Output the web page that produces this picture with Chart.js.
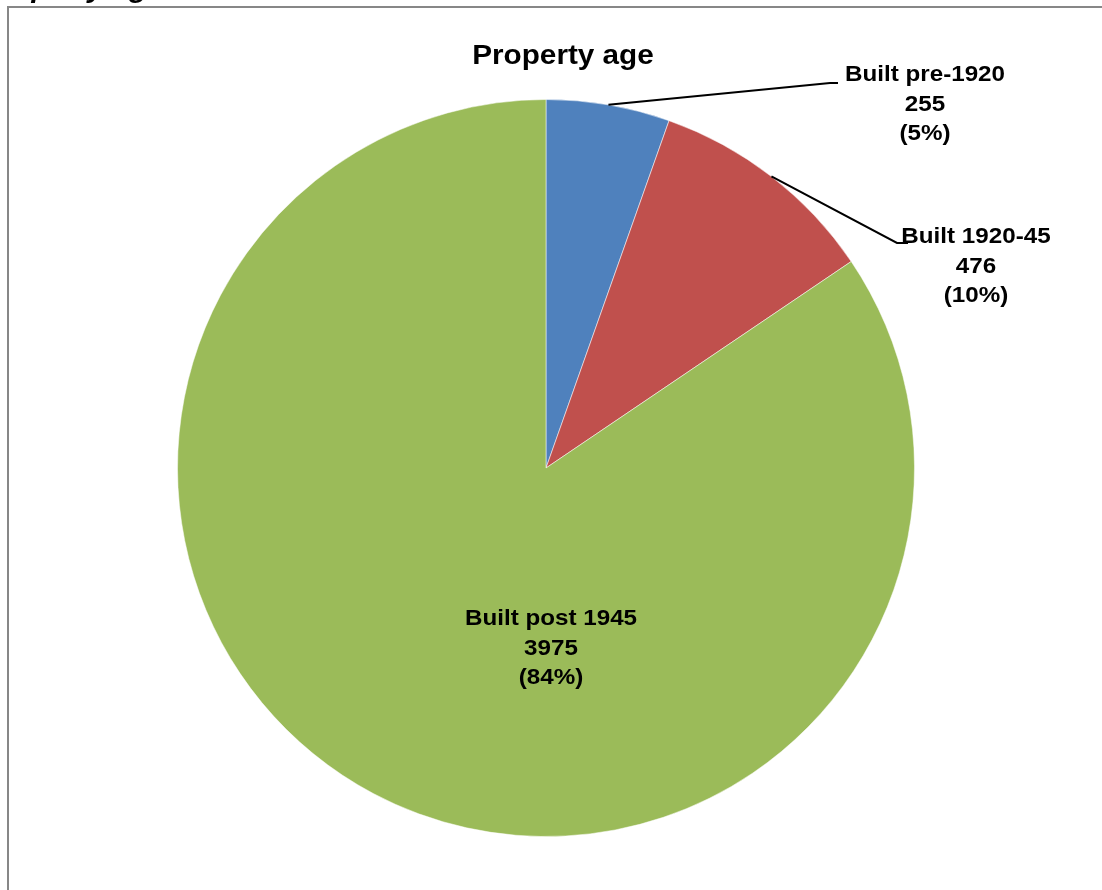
<!DOCTYPE html>
<html>
<head>
<meta charset="utf-8">
<script src="https://cdn.jsdelivr.net/npm/chart.js@4/dist/chart.umd.min.js"></script>
<style>
  html, body { margin: 0; padding: 0; background: #ffffff; }
  #wrap { position: relative; width: 1102px; height: 890px; }
</style>
</head>
<body>
<div id="wrap"><canvas id="c" width="1102" height="890"></canvas></div>
<script>
// ---- data ----
const categories = ['Built pre-1920', 'Built 1920-45', 'Built post 1945'];
const values = [255, 476, 3975];
const percentLabels = ['5%', '10%', '84%'];
const colors = ['#4F81BD', '#C0504D', '#9BBB59'];
const chartTitle = 'Property age';

// ---- label placement (styles/positions) ----
const labelPlacement = [
  { cx: 925, cy: 75, leader: [[830, 83], [838, 83]] },
  { cx: 976, cy: 237, leader: [[897, 243], [908, 243]] },
  { cx: 551, cy: 619, leader: null }
];
const FONT = '"Liberation Sans", Arial, sans-serif';
const STRETCH = 1.1;

function drawText(ctx, text, x, y, size, style) {
  ctx.save();
  ctx.font = (style || 'bold') + ' ' + size + 'px ' + FONT;
  ctx.textAlign = 'center';
  ctx.textBaseline = 'middle';
  ctx.fillStyle = '#000000';
  ctx.translate(x, y);
  ctx.scale(STRETCH, 1);
  ctx.fillText(text, 0, 0);
  ctx.restore();
}

const decor = {
  id: 'decor',
  afterDraw(chart) {
    const ctx = chart.ctx;
    // frame
    ctx.save();
    ctx.strokeStyle = '#878787';
    ctx.lineWidth = 2;
    ctx.beginPath();
    ctx.moveTo(8, 900);
    ctx.lineTo(8, 7);
    ctx.lineTo(1110, 7);
    ctx.stroke();
    ctx.restore();

    // cut-off heading at the top-left
    ctx.save();
    ctx.font = 'italic bold 27px ' + FONT;
    ctx.textAlign = 'left';
    ctx.textBaseline = 'alphabetic';
    ctx.fillStyle = '#000';
    ctx.translate(-18, -3);
    ctx.scale(STRETCH, 1);
    ctx.fillText(chartTitle, 0, 0);
    ctx.restore();

    // chart title
    drawText(ctx, chartTitle, 563, 57, 27);

    // slice labels
    const meta = chart.getDatasetMeta(0);
    meta.data.forEach((arc, i) => {
      const p = arc.getProps(['x', 'y', 'startAngle', 'endAngle', 'outerRadius'], true);
      const lp = labelPlacement[i];
      if (lp.leader) {
        const mid = (p.startAngle + p.endAngle) / 2;
        const sx = p.x + Math.cos(mid) * p.outerRadius;
        const sy = p.y + Math.sin(mid) * p.outerRadius;
        ctx.save();
        ctx.strokeStyle = '#000';
        ctx.lineWidth = 2;
        ctx.beginPath();
        ctx.moveTo(sx, sy);
        lp.leader.forEach(pt => ctx.lineTo(pt[0], pt[1]));
        ctx.stroke();
        ctx.restore();
      }
      const lines = [categories[i], String(values[i]), '(' + percentLabels[i] + ')'];
      lines.forEach((t, k) => drawText(ctx, t, lp.cx, lp.cy + k * 29.5, 22));
    });
  }
};

new Chart(document.getElementById('c'), {
  type: 'pie',
  data: {
    labels: categories,
    datasets: [{
      data: values,
      backgroundColor: colors,
      borderColor: 'rgba(255,255,255,0.5)',
      borderWidth: 1
    }]
  },
  options: {
    responsive: false,
    animation: false,
    layout: { padding: { left: 177, right: 187, top: 99, bottom: 53 } },
    plugins: {
      legend: { display: false },
      title: { display: false },
      tooltip: { enabled: false }
    }
  },
  plugins: [decor]
});
</script>
</body>
</html>
